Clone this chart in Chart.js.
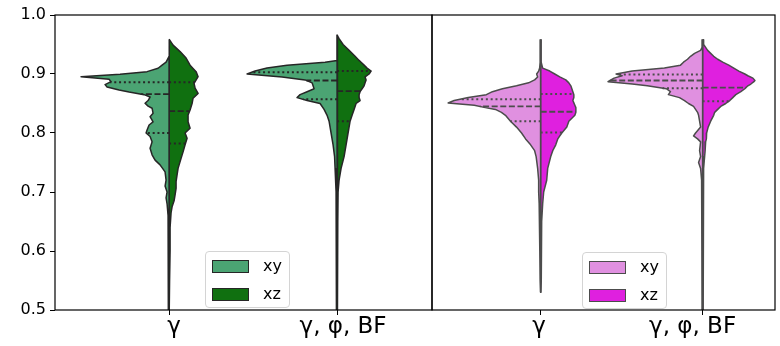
<!DOCTYPE html>
<html>
<head>
<meta charset="utf-8">
<script src="https://cdn.jsdelivr.net/npm/chart.js@4.4.1/dist/chart.umd.min.js"></script>
<style>
  body { margin: 0; background: #fff; }
  #wrap { position: relative; width: 780px; height: 346px; font-family: 'DejaVu Sans', sans-serif; }
  canvas { position: absolute; top: 0; }
  .legend { position: absolute; background: rgba(255,255,255,0.85); border: 1px solid #d4d4d4; border-radius: 4px; box-sizing: border-box; }
  .legend .patch { position: absolute; left: 6px; width: 37px; height: 13px; box-sizing: border-box; }
  .legend .lbl { position: absolute; left: 57px; font-size: 16px; line-height: 16px; color: #000; }
</style>
</head>
<body>
<div id="wrap">
  <canvas id="left-chart" width="440" height="346" style="left:0"></canvas>
  <canvas id="right-chart" width="355" height="346" style="left:425px"></canvas>
</div>
<script>
// categorias e séries
const categories = ['γ', 'γ, φ, BF'];
const seriesNames = ['xy', 'xz'];
const yTicks = [0.5, 0.6, 0.7, 0.8, 0.9, 1.0];

// --- painel verde: densidades lidas (meia-largura) ---
const greenGammaYxy = [0.93, 0.92, 0.915, 0.9097, 0.904, 0.8995, 0.8955, 0.891, 0.887, 0.882, 0.878, 0.873, 0.8695, 0.865, 0.861, 0.855, 0.8505, 0.8455, 0.842, 0.8334, 0.8276, 0.819, 0.8136, 0.805, 0.80, 0.794, 0.785, 0.774, 0.763, 0.754, 0.746, 0.734, 0.72, 0.71, 0.70, 0.69, 0.68, 0.66, 0.63, 0.60, 0.55, 0.50];
const greenGammaXY  = [0, 3, 7, 11, 22, 49, 88, 60, 58, 64, 62, 50, 40, 25, 19, 21, 24, 21, 17, 16, 19, 16, 20, 22, 23, 19, 17, 19, 17, 14, 9, 4, 3, 4, 2, 3, 2, 1, 1, 1, 0.5, 0.5];
const greenGammaYxz = [0.959, 0.949, 0.938, 0.927, 0.915, 0.904, 0.8954, 0.884, 0.876, 0.867, 0.859, 0.850, 0.839, 0.8305, 0.819, 0.808, 0.80, 0.791, 0.78, 0.768, 0.757, 0.74, 0.729, 0.7175, 0.706, 0.695, 0.685, 0.675, 0.665, 0.64, 0.60, 0.55, 0.50];
const greenGammaXZ  = [0, 4, 11, 17, 21, 27, 29, 25, 26, 29, 24, 23, 21, 19, 19, 21, 16, 18, 16, 14, 12, 9, 8, 7, 7, 6, 5, 3, 2, 1, 1, 0.5, 0.5];
const greenGammaQXY = [0.800, 0.866, 0.886];
const greenGammaQXZ = [0.782, 0.837, 0.886];

const greenBfY  = [0.966, 0.96, 0.95, 0.94, 0.93, 0.923, 0.92, 0.915, 0.91, 0.905, 0.90, 0.895, 0.89, 0.885, 0.88, 0.875, 0.87, 0.865, 0.86, 0.855, 0.85, 0.84, 0.83, 0.82, 0.81, 0.80, 0.78, 0.76, 0.74, 0.72, 0.70, 0.65, 0.60, 0.55, 0.50];
const greenBfXY = [0, 0, 0, 0, 0, 0, 12, 50, 70, 82, 90, 55, 32, 25, 24, 23, 30, 37, 40, 30, 17, 13, 10, 8, 7, 6, 4, 2.5, 2, 1.5, 1, 0.7, 0.7, 0.7, 0.5];
const greenBfXZ = [0, 2, 6, 12, 18, 22, 24, 27, 30, 34, 32, 28, 29, 28, 27, 25, 23, 22, 22, 23, 19, 17, 15, 13, 12, 11, 9, 7, 4, 2, 1, 0.7, 0.7, 0.7, 0.5];
const greenBfQXY = [0.857, 0.889, 0.903];
const greenBfQXZ = [0.820, 0.871, 0.905];

// --- painel magenta ---
const pinkGammaY  = [0.958, 0.92, 0.91, 0.905, 0.90, 0.895, 0.89, 0.885, 0.88, 0.875, 0.87, 0.865, 0.86, 0.855, 0.851, 0.847, 0.843, 0.84, 0.835, 0.83, 0.82, 0.81, 0.80, 0.79, 0.78, 0.77, 0.76, 0.74, 0.72, 0.70, 0.68, 0.65, 0.60, 0.55, 0.53];
const pinkGammaXY = [0.5, 0.5, 1, 2, 4, 3, 6, 12, 24, 38, 48, 54, 72, 86, 92, 66, 55, 45, 39, 35, 30, 24, 19, 15, 10, 6, 4.5, 3, 2, 2, 1.5, 1, 0.7, 0.5, 0.3];
const pinkGammaXZ = [0.5, 0.5, 2, 9, 14, 19, 25, 28, 30, 31, 32, 33, 33, 32, 33, 34, 35, 35, 35, 34, 28, 26, 21, 17, 15, 12, 10, 7, 6, 3, 2, 1, 0.7, 0.5, 0.3];
const pinkGammaQXY = [0.820, 0.845, 0.857];
const pinkGammaQXZ = [0.801, 0.836, 0.866];

const pinkBfY  = [0.958, 0.95, 0.945, 0.94, 0.935, 0.93, 0.925, 0.92, 0.915, 0.91, 0.905, 0.90, 0.897, 0.893, 0.889, 0.887, 0.883, 0.88, 0.875, 0.87, 0.865, 0.86, 0.855, 0.85, 0.845, 0.84, 0.835, 0.83, 0.82, 0.81, 0.80, 0.795, 0.79, 0.785, 0.77, 0.76, 0.75, 0.74, 0.72, 0.70, 0.60, 0.50];
const pinkBfXY = [0.5, 0.5, 0.5, 2, 8, 12, 15, 19, 22, 38, 70, 86, 80, 88, 92, 94, 70, 55, 36, 32, 34, 23, 18, 14, 9, 7, 5, 4, 3, 2, 7, 9, 5, 2, 3, 2, 4, 2, 1, 0.7, 0.7, 0.5];
const pinkBfXZ = [0.5, 1, 3, 5, 8, 11, 15, 20, 26, 31, 36, 42, 45, 50, 52, 51, 48, 45, 42, 38, 33, 30, 27, 23, 18, 15, 12, 11, 8, 5.5, 4, 4, 3.5, 3, 2.5, 2, 1.5, 1, 0.7, 0.5, 0.5, 0.5];
const pinkBfQXY = [0.876, 0.889, 0.899];
const pinkBfQXZ = [0.854, 0.877];

const greenColors = ['#4ba473', '#107010'];
const pinkColors = ['#e090e0', '#df20df'];

Chart.defaults.font.family = "'DejaVu Sans', sans-serif";
Chart.defaults.color = '#000';

// largura no ponto v (interpolação só para desenhar os quartis)
function densityAt(ys, w, v) {
  for (let i = 0; i < ys.length - 1; i++) {
    if (v <= ys[i] && v >= ys[i + 1]) {
      const t = (ys[i] - v) / (ys[i] - ys[i + 1]);
      return w[i] + t * (w[i + 1] - w[i]);
    }
  }
  return 0;
}

function halfViolin(center, side, ys, w, q, color, edge, k) {
  const out = [];
  const pts = [{ x: center, y: ys[0] }];
  ys.forEach((y, i) => pts.push({ x: center + side * w[i] * k, y }));
  pts.push({ x: center, y: ys[ys.length - 1] });
  pts.push({ x: center, y: ys[0] });
  out.push({
    data: pts, showLine: true, fill: 'shape', backgroundColor: color,
    borderColor: edge, borderWidth: 1.5, borderJoinStyle: 'round',
    pointRadius: 0, tension: 0, order: 2
  });
  // quartis: pontilhado, mediana tracejada
  q.forEach((v, j) => {
    const wq = densityAt(ys, w, v);
    out.push({
      data: [{ x: center, y: v }, { x: center + side * wq * k, y: v }],
      showLine: true, fill: false, borderColor: edge,
      borderWidth: j === 1 ? 1.8 : 2,
      borderDash: j === 1 ? [6, 2.6] : [2, 2.8],
      pointRadius: 0, order: 1
    });
  });
  return out;
}

const framePlugin = {
  id: 'frame',
  afterDatasetsDraw(chart) {
    const { ctx, chartArea: a } = chart;
    ctx.save();
    ctx.strokeStyle = '#000';
    ctx.lineWidth = 1.2;
    ctx.strokeRect(a.left, a.top, a.right - a.left, a.bottom - a.top);
    ctx.restore();
  }
};

// rótulos do eixo x desenhados à mão para poder deslocá-los um pouco
const xLabelPlugin = {
  id: 'xlabels',
  afterDraw(chart, args, opts) {
    const { ctx } = chart;
    const s = chart.scales.x;
    ctx.save();
    ctx.font = "23px 'DejaVu Sans'";
    ctx.fillStyle = '#000';
    ctx.textAlign = 'center';
    ctx.textBaseline = 'top';
    categories.forEach((c, i) => {
      ctx.fillText(c, s.getPixelForValue(i) + opts.shift[i], s.top + 6);
    });
    ctx.restore();
  }
};

function makePanel(id, datasets, xMin, xMax, yWidth, showYLabels, padRight, shift) {
  return new Chart(document.getElementById(id), {
    type: 'scatter',
    data: { datasets },
    options: {
      responsive: false, animation: false, events: [],
      layout: { padding: { top: 15, right: padRight, left: 0, bottom: 0 } },
      plugins: { legend: { display: false }, tooltip: { enabled: false }, xlabels: { shift } },
      scales: {
        x: {
          type: 'linear', min: xMin, max: xMax,
          afterBuildTicks: s => { s.ticks = categories.map((_, i) => ({ value: i })); },
          afterFit: s => { s.height = 36; },
          ticks: { display: false },
          grid: { display: true, drawOnChartArea: false, tickLength: 5, color: '#000' },
          border: { display: false }
        },
        y: {
          min: 0.5, max: 1.0,
          afterBuildTicks: s => { s.ticks = yTicks.map(v => ({ value: v })); },
          afterFit: s => { s.width = yWidth; },
          ticks: { display: showYLabels, callback: v => v.toFixed(1), font: { size: 16 }, padding: 4 },
          grid: { display: showYLabels, drawOnChartArea: false, tickLength: 5, color: '#000' },
          border: { display: false }
        }
      }
    },
    plugins: [framePlugin, xLabelPlugin]
  });
}

const kLeft = 1 / 168;
const kRight = 1 / 161;

makePanel('left-chart', [
  ...halfViolin(0, -1, greenGammaYxy, greenGammaXY, greenGammaQXY, greenColors[0], '#262626', kLeft),
  ...halfViolin(0, 1, greenGammaYxz, greenGammaXZ, greenGammaQXZ, greenColors[1], '#262626', kLeft),
  ...halfViolin(1, -1, greenBfY, greenBfXY, greenBfQXY, greenColors[0], '#262626', kLeft),
  ...halfViolin(1, 1, greenBfY, greenBfXZ, greenBfQXZ, greenColors[1], '#262626', kLeft)
], -0.679, 1.565, 55, true, 8, [5, 6]);

makePanel('right-chart', [
  ...halfViolin(0, -1, pinkGammaY, pinkGammaXY, pinkGammaQXY, pinkColors[0], '#4c4c4c', kRight),
  ...halfViolin(0, 1, pinkGammaY, pinkGammaXZ, pinkGammaQXZ, pinkColors[1], '#4c4c4c', kRight),
  ...halfViolin(1, -1, pinkBfY, pinkBfXY, pinkBfQXY, pinkColors[0], '#4c4c4c', kRight),
  ...halfViolin(1, 1, pinkBfY, pinkBfXZ, pinkBfQXZ, pinkColors[1], '#4c4c4c', kRight)
], -0.671, 1.447, 7, false, 5, [-1.5, -10]);

// legendas
function addLegend(left, top, colors, edge) {
  const box = document.createElement('div');
  box.className = 'legend';
  box.style.left = left + 'px';
  box.style.top = top + 'px';
  box.style.width = '85px';
  box.style.height = '57px';
  seriesNames.forEach((name, i) => {
    const patch = document.createElement('div');
    patch.className = 'patch';
    patch.style.top = (8 + i * 27.5) + 'px';
    patch.style.background = colors[i];
    patch.style.border = '1px solid ' + edge;
    box.appendChild(patch);
    const lbl = document.createElement('div');
    lbl.className = 'lbl';
    lbl.style.top = (6 + i * 27.5) + 'px';
    lbl.textContent = name;
    box.appendChild(lbl);
  });
  document.getElementById('wrap').appendChild(box);
}
addLegend(205, 251, greenColors, '#262626');
addLegend(582, 252, pinkColors, '#4c4c4c');
</script>
</body>
</html>
